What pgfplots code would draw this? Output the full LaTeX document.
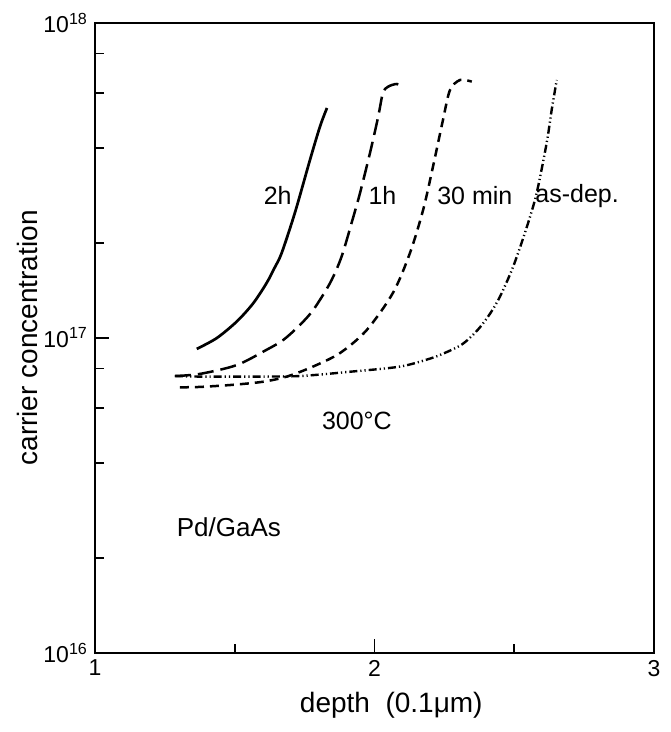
\documentclass[border=0pt]{standalone}
\usepackage{fontspec}
\setmainfont{Liberation Sans}
\usepackage{pgfplots}
\pgfplotsset{compat=1.18}
\tikzset{ann/.style={inner sep=1pt, font=\fontsize{12.5}{14}\selectfont}}

\begin{document}
\begin{tikzpicture}
\begin{axis}[
    scale only axis,
    width=279.5pt, height=315pt,
    xmin=1, xmax=3,
    ymode=log, log basis y=10,
    ymin=1e16, ymax=1e18,
    axis line style={line width=1pt},
    xtick={1,2,3}, xticklabels={1,2,3},
    minor xtick={1.5,2.5},
    ytick={1e16,1e17,1e18},
    yticklabels={10\textsuperscript{16},10\textsuperscript{17},10\textsuperscript{18}},
    minor ytick={2e16,4e16,6e16,8e16,2e17,4e17,6e17,8e17},
    tick pos=left, tick align=inside,
    major tick length=7pt, minor tick length=4.5pt,
    every tick/.style={line width=0.9pt, black},
    ticklabel style={font=\fontsize{11.5}{13}\selectfont},
    xlabel={depth\ \ (0.1μm)},
    ylabel={carrier concentration},
    every axis x label/.style={at={(axis description cs:0.53,-0.083)}, anchor=center,
        font=\fontsize{14}{16}\selectfont},
    every axis y label/.style={at={(axis description cs:-0.12,0.5)}, rotate=90, anchor=center,
        font=\fontsize{14}{16}\selectfont},
    clip=false,
]
% 2 h anneal
\addplot[line width=1.35pt, smooth] coordinates {
    (1.364, 9.23e16) (1.435, 9.98e16) (1.507, 1.127e17) (1.566, 1.288e17)
    (1.614, 1.494e17) (1.641, 1.66e17) (1.668, 1.862e17) (1.716, 2.51e17)
    (1.769, 3.67e17) (1.805, 4.69e17) (1.830, 5.37e17)
};
% 1 h
\addplot[line width=1.25pt, smooth, dash pattern=on 8pt off 3.5pt] coordinates {
    (1.286, 7.57e16) (1.376, 7.69e16) (1.507, 8.20e16) (1.614, 9.17e16)
    (1.674, 9.86e16) (1.733, 1.099e17) (1.781, 1.228e17) (1.841, 1.494e17)
    (1.882, 1.81e17) (1.920, 2.35e17) (1.948, 2.88e17) (1.984, 3.87e17)
    (2.013, 5.03e17) (2.030, 5.99e17) (2.048, 6.27e17) (2.080, 6.40e17)
    (2.102, 6.22e17)
};
% 30 min
\addplot[line width=1.25pt, smooth, dash pattern=on 4.5pt off 3pt] coordinates {
    (1.304, 6.97e16) (1.376, 6.99e16) (1.494, 7.10e16) (1.601, 7.26e16)
    (1.686, 7.54e16) (1.780, 8.11e16) (1.877, 8.96e16) (1.972, 1.059e17)
    (2.066, 1.39e17) (2.127, 1.862e17) (2.174, 2.55e17) (2.209, 3.49e17)
    (2.245, 4.92e17) (2.270, 6.12e17) (2.306, 6.59e17) (2.348, 6.51e17)
};
% as-deposited
\addplot[line width=1.2pt, smooth, dash pattern=on 4pt off 1.5pt on 0.6pt off 1.5pt on 0.6pt off 1.5pt] coordinates {
    (1.286, 7.57e16) (1.376, 7.54e16) (1.555, 7.54e16) (1.733, 7.57e16)
    (1.912, 7.81e16) (2.091, 8.11e16) (2.199, 8.60e16) (2.250, 8.95e16)
    (2.306, 9.45e16) (2.340, 9.98e16) (2.377, 1.08e17) (2.415, 1.20e17)
    (2.449, 1.353e17) (2.496, 1.683e17) (2.545, 2.25e17) (2.580, 2.88e17)
    (2.616, 4.16e17) (2.634, 5.30e17) (2.652, 6.59e17)
};
\node[ann, anchor=east] at (axis cs:1.712,2.83e17) {2h};
\node[ann, anchor=west] at (axis cs:1.970,2.83e17) {1h};
\node[ann, anchor=west] at (axis cs:2.216,2.83e17) {30 min};
\node[ann, anchor=west] at (axis cs:2.567,2.83e17) {as-dep.};
\node[ann] at (axis cs:1.937,5.46e16) {300°C};
\node[ann, font=\fontsize{13}{15}\selectfont] at (axis cs:1.479,2.51e16) {Pd/GaAs};
\path (rel axis cs:0,0) ++(-47.5pt,-39.5pt) rectangle ++(335pt,366pt);
\end{axis}
\end{tikzpicture}
\end{document}
